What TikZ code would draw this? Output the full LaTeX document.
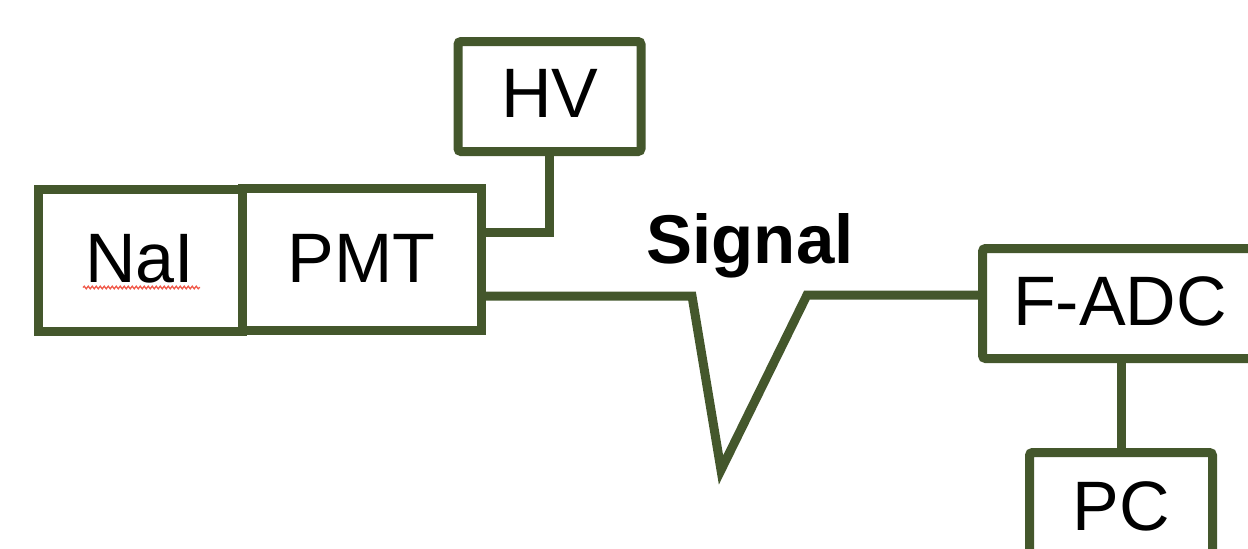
\documentclass[tikz,border=0pt]{standalone}
\usepackage{fontspec}
\setmainfont{Liberation Sans}
\usetikzlibrary{decorations.pathmorphing}
\definecolor{wire}{HTML}{44572C}
\definecolor{spell}{HTML}{F05A4A}
\tikzset{
  unit/.style={draw=wire, line width=9pt, fill=white, inner sep=0pt,
               font=\fontsize{70}{70}\selectfont, text=black},
  link/.style={draw=wire, line width=9pt, miter limit=20},
  lbl/.style={anchor=base, inner sep=0pt, text=black, font=\fontsize{70}{70}\selectfont}
}
\begin{document}
\begin{tikzpicture}[x=1pt,y=-1pt]
\useasboundingbox (0,0) rectangle (1248,549);
% boxes (outlines only, labels placed on their baselines)
\node[unit, minimum width=203.5pt, minimum height=142pt] (nai) at (140.25,260) {};
\node[unit, minimum width=239.5pt, minimum height=141.5pt] (pmt) at (361.75,259.25) {};
\node[unit, rounded corners=3pt, minimum width=183pt, minimum height=110pt] (hv) at (549.5,96.5) {};
\node[unit, rounded corners=3pt, minimum width=275pt, minimum height=110pt] (fadc) at (1120,303.5) {};
\node[unit, rounded corners=3pt, minimum width=183pt, minimum height=110pt] (pc) at (1121,507.5) {};
% labels
\node[lbl] (tnai) at (139.5,282) {NaI};
\node[lbl] (tpmt) at (361.5,282) {PMT};
\node[lbl] (thv) at (550,117) {HV};
\node[lbl] (tfadc) at (1120,325) {F-ADC};
\node[lbl] (tpc) at (1121.5,530) {PC};
\node[lbl, font=\fontsize{69}{69}\selectfont\bfseries] (tsig) at (750,263) {Signal};
% spell-check underline under NaI
\draw[spell, line width=1.3pt, decorate, decoration={snake, amplitude=1.3pt, segment length=4pt}]
  (83,287.5) -- (200,287.5);
% high-voltage supply line
\coordinate (hvin) at ([yshift=27.25pt]pmt.east);
\draw[link] (hvin) -| (hv.south);
% signal line with pulse
\coordinate (sigout) at ([yshift=-36.75pt]pmt.east);
\coordinate (p1) at (692,296);
\coordinate (p2) at (721,470);
\coordinate (p3) at (807,295);
\coordinate (sigin) at ([yshift=8.5pt]fadc.west);
\draw[link] (sigout) -- (p1) -- (p2) -- (p3) -- (sigin);
% readout line
\draw[link] (pc.north |- fadc.south) -- (pc.north);
\end{tikzpicture}
\end{document}
